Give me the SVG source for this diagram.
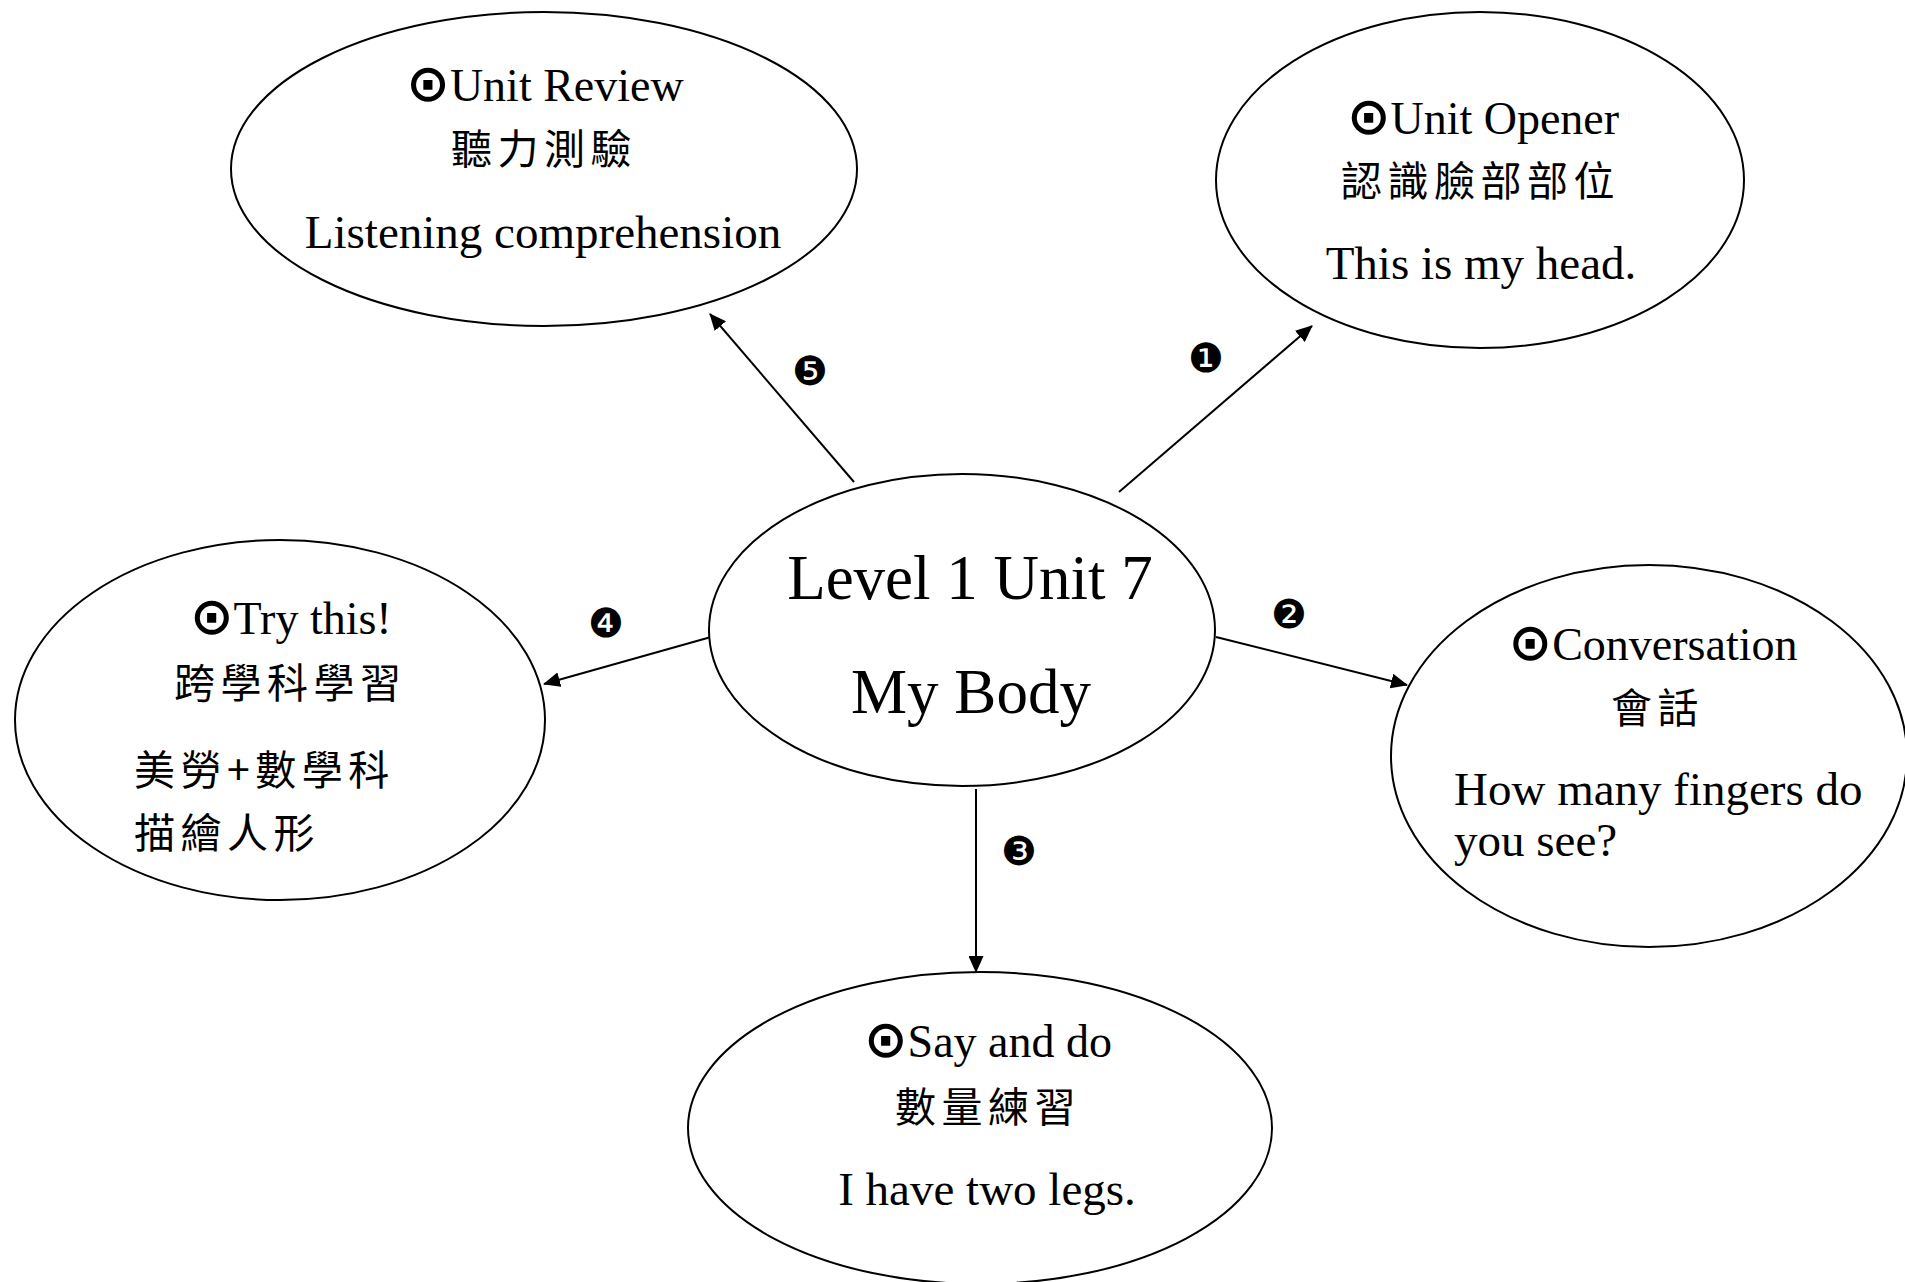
<svg xmlns="http://www.w3.org/2000/svg" width="1905" height="1282" viewBox="0 0 1905 1282">
<style>
  .node { fill: #ffffff; stroke: #000000; stroke-width: 2; }
  .en { font-family: "Liberation Serif", "Noto Sans CJK TC", serif; font-size: 47px; fill: #000; }
  .hd { font-family: "Liberation Serif", "Noto Sans CJK TC", serif; font-size: 46px; fill: #000; }
  .sym { font-family: "DejaVu Sans", sans-serif; font-weight: bold; font-size: 52px; }
  .big { font-family: "Liberation Serif", serif; font-size: 63px; fill: #000; }
  .zh { font-family: "Noto Sans CJK TC", "Noto Sans CJK SC", sans-serif; font-size: 41px; letter-spacing: 5.5px; fill: #000; }
  .mid { text-anchor: middle; }
  .conn { stroke: #000; stroke-width: 2; fill: none; marker-end: url(#arrow); }
  .num { font-family: "DejaVu Sans", sans-serif; font-size: 40px; fill: #000; text-anchor: middle; dominant-baseline: central; }
</style>
<defs>
  <marker id="arrow" viewBox="0 0 17 15" refX="16" refY="7.5" markerWidth="17" markerHeight="15" markerUnits="userSpaceOnUse" orient="auto">
    <path d="M0,0 L17,7.5 L0,15 Z" fill="#000"/>
  </marker>
</defs>
<rect x="0" y="0" width="1905" height="1282" fill="#ffffff"/>

<g id="connectors">
  <line class="conn" x1="1119" y1="492" x2="1312" y2="326"/>
  <line class="conn" x1="1216" y1="637" x2="1407" y2="685"/>
  <line class="conn" x1="976" y1="789" x2="976" y2="972"/>
  <line class="conn" x1="711" y1="637" x2="544" y2="684"/>
  <line class="conn" x1="854" y1="482" x2="710" y2="314"/>
  <text class="num" x="1206" y="358">❶</text>
  <text class="num" x="1289" y="614">❷</text>
  <text class="num" x="1019" y="851">❸</text>
  <text class="num" x="606" y="623">❹</text>
  <text class="num" x="810" y="371">❺</text>
</g>

<g id="center">
  <ellipse class="node" cx="962" cy="630" rx="253" ry="156"/>
  <text class="big mid" x="970" y="599">Level 1 Unit 7</text>
  <text class="big mid" x="971" y="713">My Body</text>
</g>

<g id="unit-review">
  <ellipse class="node" cx="544" cy="169" rx="313" ry="157"/>
  <text class="hd mid" x="545" y="101"><tspan class="sym">⊙</tspan>Unit Review</text>
  <text class="zh" x="451" y="164">聽力測驗</text>
  <text class="en mid" x="543" y="248">Listening comprehension</text>
</g>

<g id="unit-opener">
  <ellipse class="node" cx="1480" cy="180" rx="264" ry="168"/>
  <text class="hd mid" x="1483" y="134"><tspan class="sym">⊙</tspan>Unit Opener</text>
  <text class="zh" x="1341" y="196">認識臉部部位</text>
  <text class="en mid" x="1481" y="279">This is my head.</text>
</g>

<g id="try-this">
  <ellipse class="node" cx="280" cy="720" rx="265" ry="180"/>
  <text class="hd" x="190" y="634"><tspan class="sym">⊙</tspan>Try this!</text>
  <text class="zh" x="174" y="698">跨學科學習</text>
  <text class="zh" x="134" y="785">美勞+數學科</text>
  <text class="zh" x="134" y="848">描繪人形</text>
</g>

<g id="conversation">
  <ellipse class="node" cx="1649" cy="756" rx="258" ry="191"/>
  <text class="hd mid" x="1653" y="660"><tspan class="sym">⊙</tspan>Conversation</text>
  <text class="zh" x="1611" y="723">會話</text>
  <text class="en" x="1454" y="805">How many fingers do</text>
  <text class="en" x="1454" y="856">you see?</text>
</g>

<g id="say-and-do">
  <ellipse class="node" cx="980" cy="1128" rx="292" ry="156"/>
  <text class="hd mid" x="988" y="1057"><tspan class="sym">⊙</tspan>Say and do</text>
  <text class="zh" x="895" y="1122">數量練習</text>
  <text class="en mid" x="987" y="1205">I have two legs.</text>
</g>
</svg>
